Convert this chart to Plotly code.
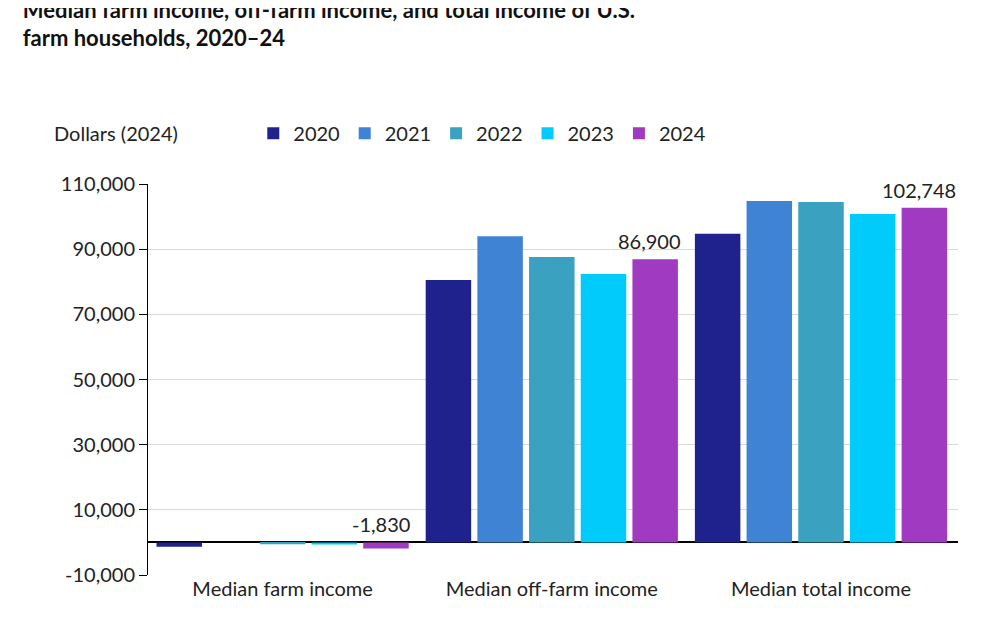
import plotly.graph_objects as go

categories = ["Median farm income", "Median off-farm income", "Median total income"]
years = ["2020", "2021", "2022", "2023", "2024"]
colors = ["#1f228c", "#3f84d4", "#3aa1c0", "#00cbfa", "#a03ac0"]
values = {
    "2020": [-1300, 80500, 94700],
    "2021": [0, 94000, 104800],
    "2022": [-550, 87600, 104500],
    "2023": [-650, 82400, 100800],
    "2024": [-1830, 86900, 102748],
}
labels_2024 = ["-1,830", "86,900", "102,748"]
tick_vals = list(range(-10000, 110001, 20000))
tick_text = [f"{v:,}" for v in tick_vals]

fig = go.Figure()
for y, c in zip(years, colors):
    fig.add_trace(go.Bar(name=y, x=categories, y=values[y],
                         marker=dict(color=c, line=dict(width=0))))

# value labels above the 2024 bars
for cat, v, lab in zip(categories, values["2024"], labels_2024):
    fig.add_annotation(x=cat, y=max(v, 0), xshift=98, yshift=4, text=lab,
                       showarrow=False, yanchor="bottom",
                       font=dict(size=20, color="#222"))

fig.update_layout(
    width=982, height=634,
    font=dict(family="Lato", size=20, color="#222"),
    paper_bgcolor="white", plot_bgcolor="white",
    title=dict(text="<b>Median farm income, off-farm income, and total income of U.S.<br>farm households, 2020–24</b>",
               x=0.015, xanchor="left", y=0.985, yanchor="top", font=dict(size=22, color="#111")),
    margin=dict(l=140, r=32, t=176, b=67),
    barmode="group", bargap=0.04, bargroupgap=0.12,
    legend=dict(orientation="h", x=0.13, xanchor="left", y=1.13, yanchor="middle",
                font=dict(size=20), traceorder="normal"),
)
fig.add_annotation(text="Dollars (2024)", xref="paper", yref="paper", x=-0.118, y=1.13,
                   xanchor="left", yanchor="middle", showarrow=False, font=dict(size=20))
fig.update_yaxes(range=[-10000, 110000], tickvals=tick_vals, ticktext=tick_text,
                 showgrid=True, gridcolor="#d9d9d9", zeroline=True,
                 zerolinecolor="#000", zerolinewidth=1.5, showline=True, linecolor="#000",
                 ticks="outside", ticklen=8, tickcolor="#000")
fig.update_xaxes(showline=False, ticks="")
fig.write_html("out.html")
